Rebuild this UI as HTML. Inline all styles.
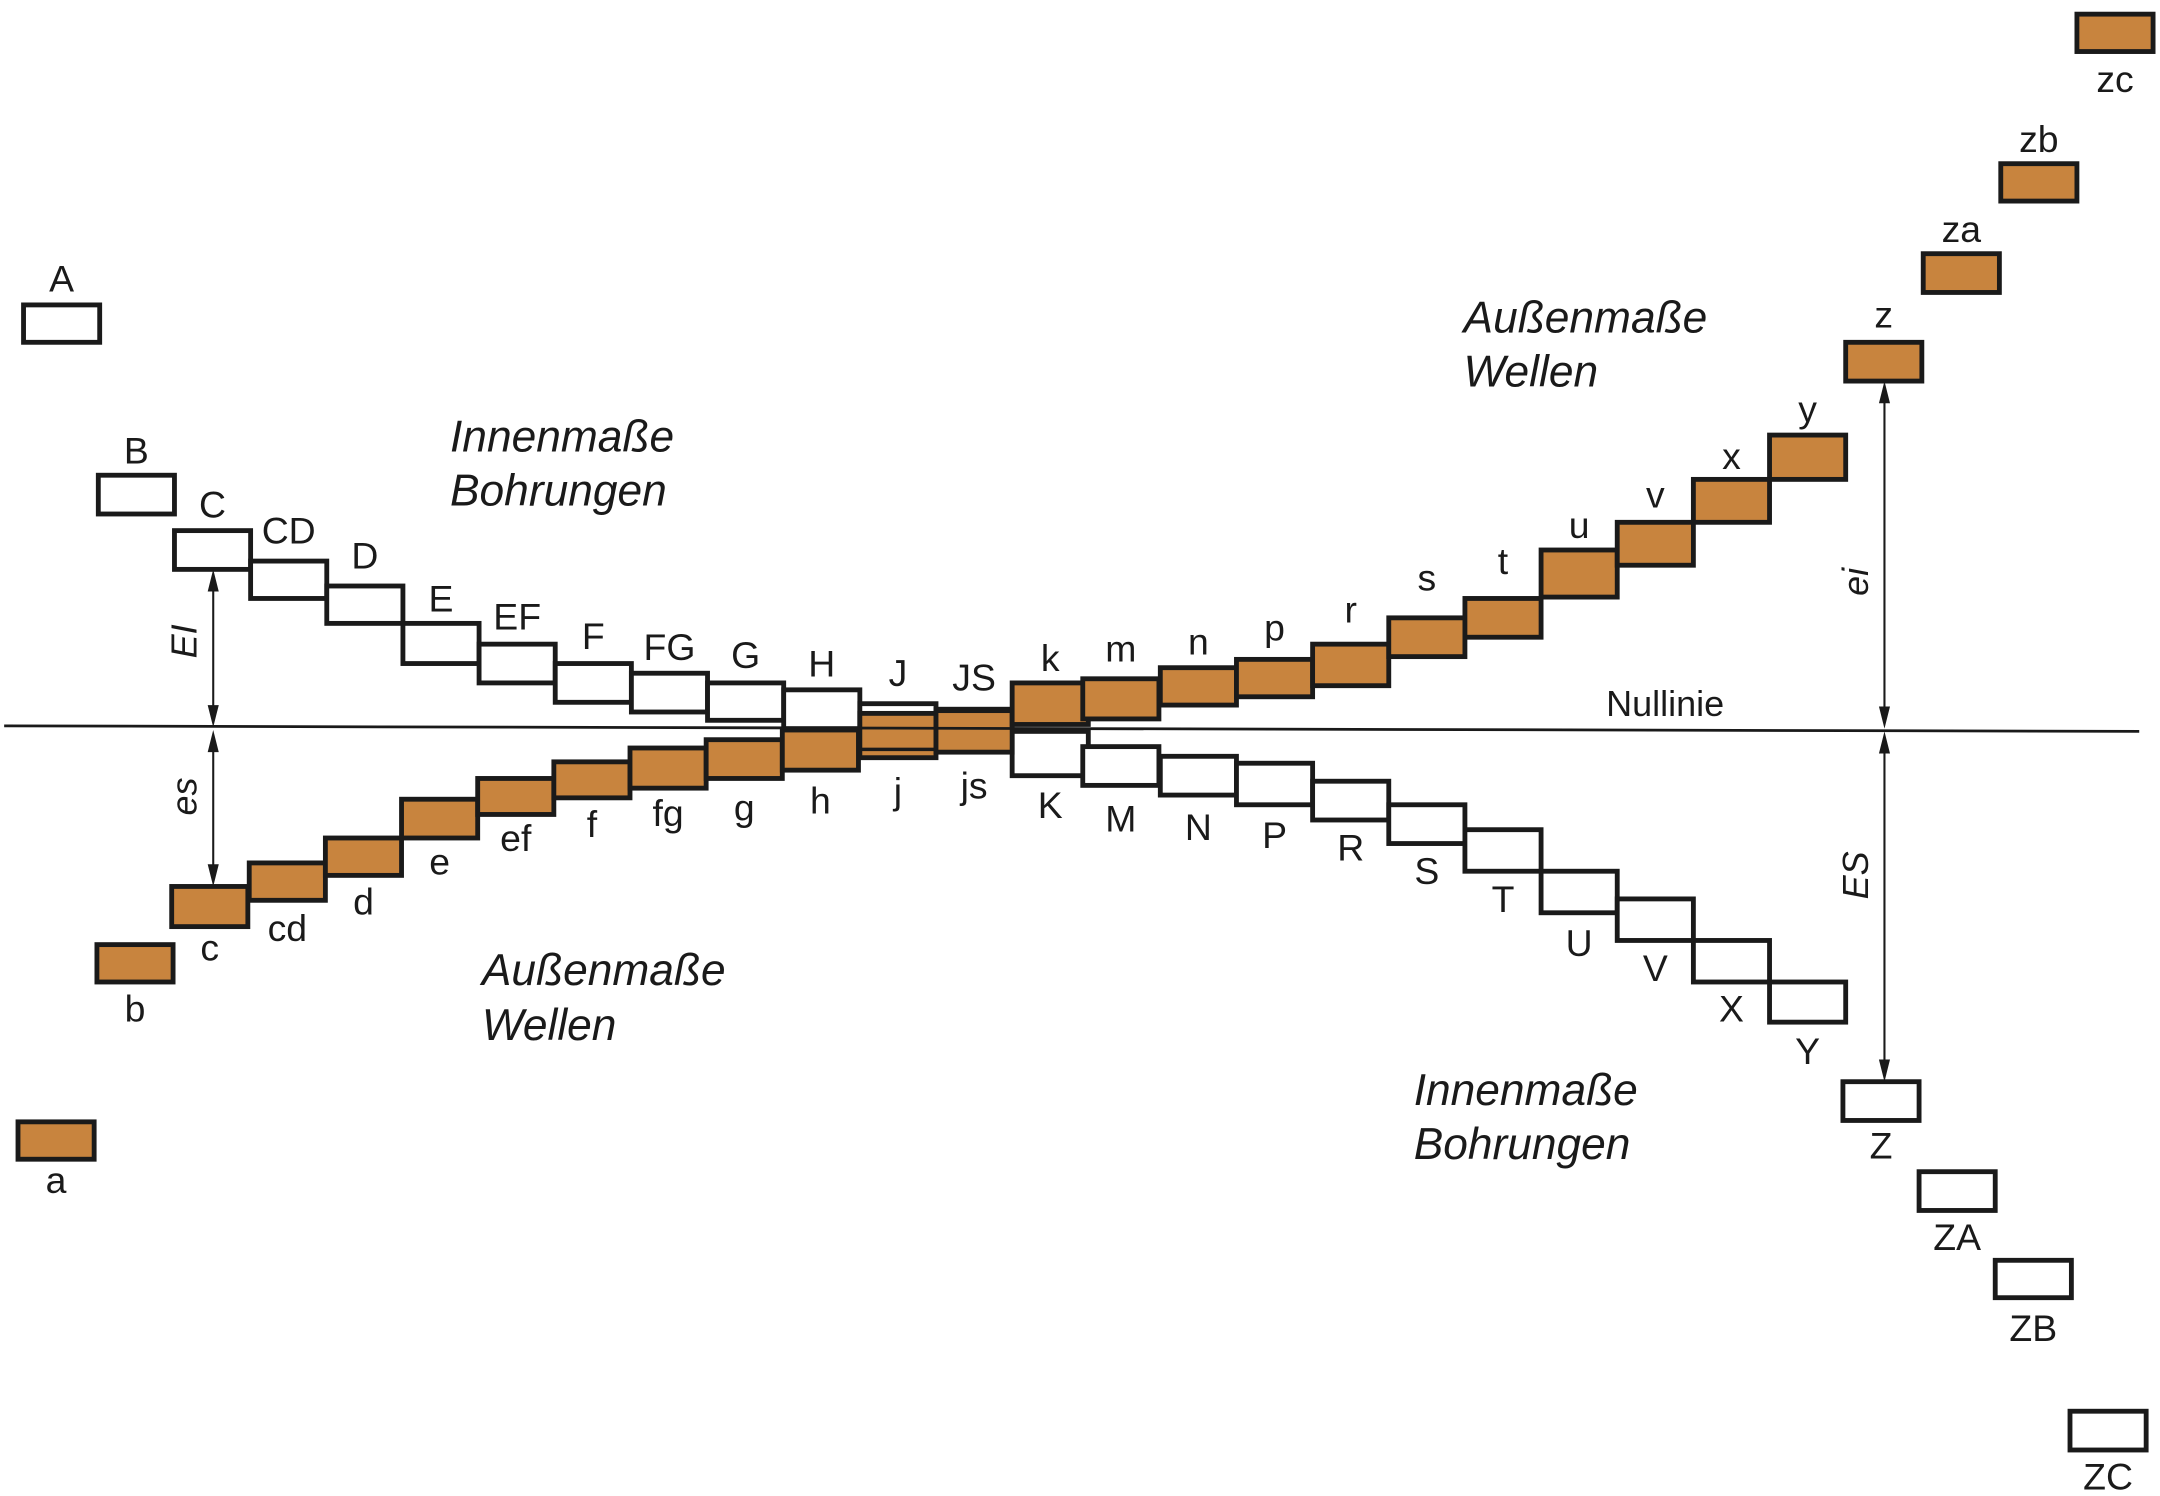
<!DOCTYPE html>
<html><head><meta charset="utf-8"><style>
html,body{margin:0;padding:0;background:#fff;}
svg{display:block;}
text{font-family:"Liberation Sans",sans-serif;fill:#1a1a1a;}
</style></head><body>
<svg id="chart" width="2160" height="1496" viewBox="0 0 1560 1080" xmlns="http://www.w3.org/2000/svg">
<g id="boxes"></g>
<line x1="3" y1="524" x2="1545" y2="528" stroke="#1a1a1a" stroke-width="2"/>
<text x="1160" y="517" font-size="26">Nullinie</text>
<g font-size="32" font-style="italic">
<text x="325" y="326">Innenmaße</text>
<text x="325" y="365">Bohrungen</text>
<text x="348" y="711">Außenmaße</text>
<text x="348" y="751">Wellen</text>
<text x="1057" y="240">Außenmaße</text>
<text x="1057" y="279">Wellen</text>
<text x="1021" y="798">Innenmaße</text>
<text x="1021" y="837">Bohrungen</text>
</g>
<g id="arrows"></g>
<g id="labels" font-size="27" text-anchor="middle"></g>
</svg>
<script>
// Letter categories and deviation limits (units: drawing offset from null line, + = above)
const holeNames = ["A","B","C","CD","D","E","EF","F","FG","G","H","J","JS","K","M","N","P","R","S","T","U","V","X","Y","Z","ZA","ZB","ZC"];
const holeUpper = [306,183,143,121,103,76,61,47,40,33,28,18,14,-2,-13,-20,-25,-38,-55,-73,-103,-123,-153,-183,-255,-320,-384,-493];
const holeLower = [279,155,115,94,76,47,33,19,12,6,0,-15,-14,-34,-41,-48,-55,-66,-83,-103,-133,-153,-183,-212,-283,-348,-411,-521];
const shaftNames = ["a","b","c","cd","d","e","ef","f","fg","g","h","j","js","k","m","n","p","r","s","t","u","v","x","y","z","za","zb","zc"];
const shaftUpper = [-284,-156,-114,-97,-79,-51,-36,-24,-14,-8,-1,11,13,33,36,44,50,61,80,94,129,149,180,212,279,343,408,516];
const shaftLower = [-311,-183,-143,-124,-106,-79,-62,-50,-43,-36,-30,-21,-17,3,7,17,23,31,52,66,95,118,149,180,251,315,381,489];
const holeLabelOff = [-19,-18,-19,-22,-22,-18,-20,-20,-19,-20,-19,-22,-23,21,24,23,22,20,20,20,22,20,19,21,18,19,22,19];
const shaftLabelOff = [15,19,15,20,19,17,17,19,18,21,22,24,24,-18,-22,-19,-23,-25,-29,-27,-18,-20,-17,-19,-20,-18,-18,20];
const holeX = [17,71,126,181,236,291,346,401,456,511,566,621,676,731,782,838,893,948,1003,1058,1113,1168,1223,1278,1331,1386,1441,1495];
const shaftX = [13,70,124,180,235,290,345,400,455,510,565,621,676,731,782,838,893,948,1003,1058,1113,1168,1223,1278,1333,1389,1445,1500];
const BOXW = 55, NULLY = 526;
function yScale(v){ return NULLY - v; }
const NS="http://www.w3.org/2000/svg";
const gBox=document.getElementById('boxes'), gLab=document.getElementById('labels'), gArr=document.getElementById('arrows');
function rect(x,v1,v2,fill,name){
  const r=document.createElementNS(NS,'rect');
  const y1=yScale(Math.max(v1,v2)), y2=yScale(Math.min(v1,v2));
  r.setAttribute('x',x); r.setAttribute('y',y1); r.setAttribute('width',BOXW); r.setAttribute('height',y2-y1);
  r.setAttribute('fill',fill); r.setAttribute('stroke','#1a1a1a'); r.setAttribute('stroke-width','3.5');
  
  
  gBox.appendChild(r); return r;
}
function label(x,y,t,name){
  const e=document.createElementNS(NS,'text');
  e.setAttribute('x',x); e.setAttribute('y',y); e.setAttribute('dominant-baseline','central'); e.textContent=t;
  
  
  gLab.appendChild(e);
}
holeNames.forEach((n,i)=>{ rect(holeX[i],holeUpper[i],holeLower[i],'#ffffff','hole-zone-'+n); });
shaftNames.forEach((n,i)=>{ rect(shaftX[i],shaftUpper[i],shaftLower[i],'#c8843e','shaft-zone-'+n); });
(function(){ const i=11; const r=rect(holeX[i],holeUpper[i],holeLower[i],'none','hole-zone-J-outline'); r.setAttribute('stroke-width','2.5'); })();
holeNames.forEach((n,i)=>{
  const cy = holeLabelOff[i]<0 ? yScale(holeUpper[i])+holeLabelOff[i] : yScale(holeLower[i])+holeLabelOff[i];
  label(holeX[i]+BOXW/2, cy, n, 'label-'+n);
});
shaftNames.forEach((n,i)=>{
  const cy = shaftLabelOff[i]>0 ? yScale(shaftLower[i])+shaftLabelOff[i] : yScale(shaftUpper[i])+shaftLabelOff[i];
  label(shaftX[i]+BOXW/2, cy, n, 'label-'+n);
});
function arrow(x,y1,y2,t,ty,name){
  const g=document.createElementNS(NS,'g');
  
  
  const l=document.createElementNS(NS,'line');
  l.setAttribute('x1',x); l.setAttribute('x2',x); l.setAttribute('y1',y1+10); l.setAttribute('y2',y2-10);
  l.setAttribute('stroke','#1a1a1a'); l.setAttribute('stroke-width','1.5'); g.appendChild(l);
  [[y1,1],[y2,-1]].forEach(([y,d])=>{
    const p=document.createElementNS(NS,'polygon');
    p.setAttribute('points',`${x},${y} ${x-4},${y+d*16} ${x+4},${y+d*16}`); p.setAttribute('fill','#1a1a1a'); g.appendChild(p);
  });
  const tx=document.createElementNS(NS,'text');
  tx.setAttribute('x',x-21); tx.setAttribute('y',ty); tx.setAttribute('font-size','26'); tx.setAttribute('font-style','italic');
  tx.setAttribute('text-anchor','middle'); tx.setAttribute('dominant-baseline','central');
  tx.setAttribute('transform',`rotate(-90 ${x-21} ${ty})`); tx.textContent=t; g.appendChild(tx);
  gArr.appendChild(g);
}
arrow(154, yScale(holeLower[2]), NULLY-1, 'EI', 463, 'arrow-EI');
arrow(154, NULLY+1, yScale(shaftUpper[2]), 'es', 575, 'arrow-es');
arrow(1361, yScale(shaftLower[24]), NULLY, 'ei', 420, 'arrow-ei');
arrow(1361, NULLY+2, yScale(holeUpper[24]), 'ES', 632, 'arrow-ES');
</script>
</body></html>
